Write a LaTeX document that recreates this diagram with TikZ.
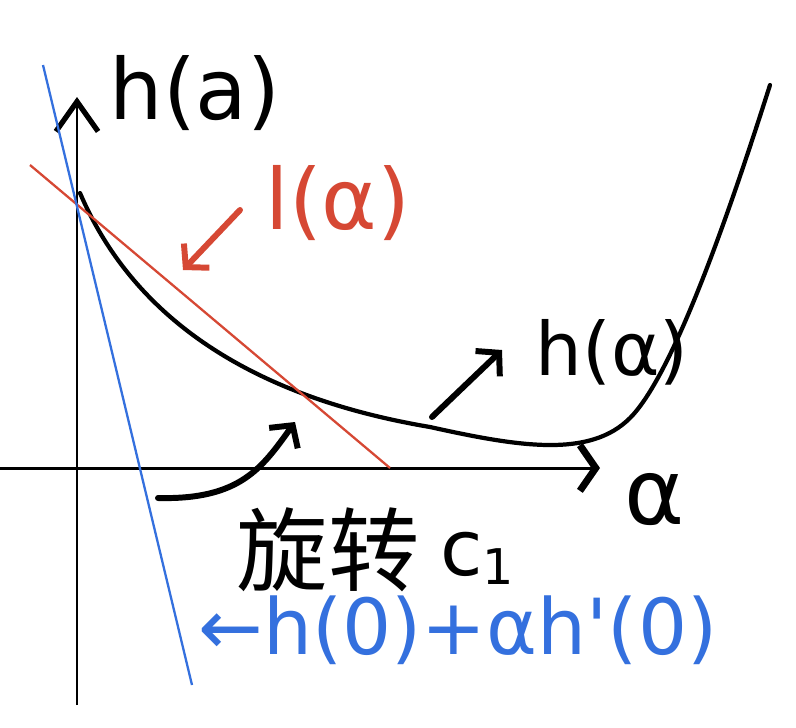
\documentclass[tikz,border=0pt]{standalone}
\usepackage{fontspec}
\setmainfont{DejaVu Sans}
\newfontfamily\cjk{Noto Sans CJK SC}
\usetikzlibrary{arrows.meta}
\definecolor{penred} {RGB}{214,72,52}
\definecolor{penblue}{RGB}{52,112,222}
\tikzset{
  axisline/.style={line width=1.7pt},
  hcurve/.style  ={line width=2.4pt, line cap=round},
  fline/.style   ={line width=1.3pt},
  harr/.style    ={-{Straight Barb[length=9pt, width=20pt]},
                   line width=3.4pt, line cap=round},
  hand/.style    ={inner sep=0pt, font=\fontsize{#1}{#1}\selectfont},
  hand/.default=48,
}

\begin{document}
\begin{tikzpicture}[x=0.02cm, y=-0.02cm]

\useasboundingbox[fill=white] (0,0) rectangle (796,728);

% axes
\coordinate (ybot) at (77,705);
\coordinate (ytop) at (77,97);
\coordinate (xleft) at (0,468);
\coordinate (xright) at (600,468);
\draw[axisline, -{Straight Barb[length=17pt, width=24pt, line width=3pt]}]
  (ybot) -- (ytop);
\draw[axisline, -{Straight Barb[length=9pt, width=26pt, line width=4pt]}]
  (xleft) -- (xright);

% h(alpha)
\coordinate (c0) at (80,193);
\coordinate (c1) at (430,427);
\coordinate (c2) at (630,418);
\coordinate (c3) at (770,85);
\draw[hcurve] (c0) .. controls (130,310) and (240,395) .. (c1)
  .. controls (520,447) and (590,458) .. (c2)
  .. controls (670,378) and (722,236) .. (c3);

% red tangent and blue line
\coordinate (rA) at (30,165);
\coordinate (rB) at (390,468);
\draw[fline, penred] (rA) -- (rB);
\coordinate (bA) at (43,65);
\coordinate (bB) at (192,685);
\draw[fline, penblue] (bA) -- (bB);

% labels
\node[hand] (hax) at (195,93) {h(a)};
\node[hand, text=penred] (llab) at (338,203) {l(α)};
\node[hand=42] (hlab) at (612,352) {h(α)};
\node[hand=52] (alab) at (655,500) {α};
\node[hand=52] (rot) at (328,550) {\cjk 旋转};
\node[hand=44, anchor=base west] (cone) at (440,575)
  {c\raisebox{-0.12em}{\fontsize{28}{28}\selectfont 1}};
\node[hand=44, text=penblue] (blab) at (458,630)
  {←h(0)+αh\textquotesingle(0)};

% pointers
\coordinate (ltail) at (240,210);
\coordinate (ltip) at (183,270);
\draw[harr, penred] (ltail) -- (ltip);
\coordinate (htail) at (432,417);
\coordinate (htip) at (502,350);
\draw[harr] (htail) -- (htip);
\coordinate (ctail) at (158,498);
\coordinate (ctip) at (295,422);
\draw[harr] (ctail) .. controls (240,500) and (262,468) .. (ctip);

\end{tikzpicture}
\end{document}
